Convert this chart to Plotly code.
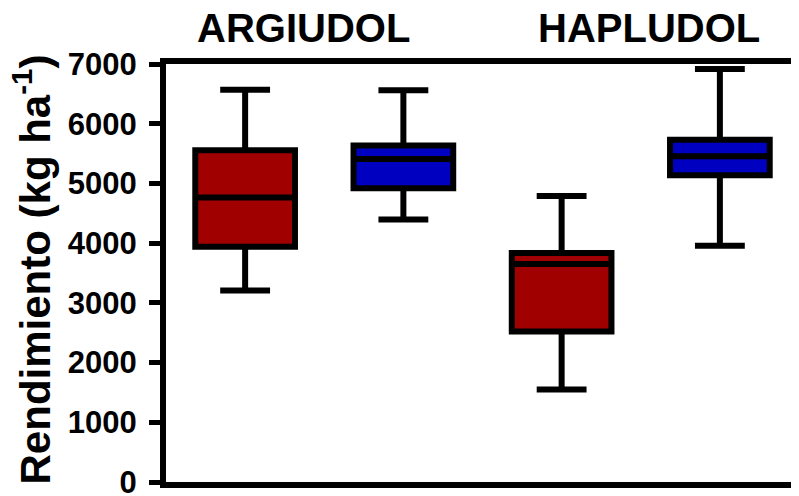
import plotly.graph_objects as go

soils = ["ARGIUDOL", "HAPLUDOL"]
series_names = ["Rojo", "Azul"]
series_colors = ["#a00000", "#0000c0"]

# per series: values for [ARGIUDOL, HAPLUDOL]
q1 = [[3940, 2520], [4920, 5135]]
median = [[4765, 3650], [5410, 5455]]
q3 = [[5555, 3835], [5635, 5730]]
lower = [[3205, 1550], [4395, 3955]]
upper = [[6570, 4790], [6560, 6915]]

y_ticks = [0, 1000, 2000, 3000, 4000, 5000, 6000, 7000]

fig = go.Figure()
for s in range(2):
    xs = [i * 2 + s for i in range(len(soils))]
    fig.add_trace(go.Box(
        x=xs,
        q1=q1[s], median=median[s], q3=q3[s],
        lowerfence=lower[s], upperfence=upper[s],
        name=series_names[s],
        fillcolor=series_colors[s],
        line=dict(color="black", width=6),
        width=0.63,
        whiskerwidth=0.5,
        boxpoints=False,
        hoverinfo="skip",
    ))

font_family = "Liberation Sans, Arial, sans-serif"
title_x = [0.372, 2.552]
for i, soil in enumerate(soils):
    fig.add_annotation(
        x=title_x[i], xref="x", y=1.087, yref="paper",
        text=soil, showarrow=False, xanchor="center", yanchor="middle",
        font=dict(family=font_family, size=40, color="black", weight="bold"),
    )

fig.add_annotation(
    x=-0.212, xref="paper", y=0.508, yref="paper",
    text="Rendimiento (kg ha<sup>-1</sup>)", showarrow=False,
    textangle=-90, xanchor="center", yanchor="middle",
    font=dict(family=font_family, size=42, color="black", weight="bold"),
)

fig.update_layout(
    width=799, height=496,
    margin=dict(l=158, r=8, t=56, b=22, autoexpand=False),
    paper_bgcolor="white", plot_bgcolor="white",
    showlegend=False,
    xaxis=dict(range=[-0.5, 3.5], showticklabels=False, ticks="",
               showgrid=False, zeroline=False, showline=True, automargin=False,
               linecolor="black", linewidth=6, mirror=True, fixedrange=True),
    yaxis=dict(range=[0, 7000], tickvals=y_ticks, ticks="outside",
               ticklen=11, tickwidth=5, tickcolor="black",
               showgrid=False, zeroline=False, showline=True, automargin=False,
               linecolor="black", linewidth=6,
               ticklabeloverflow="allow", ticklabelstandoff=6,
               tickfont=dict(family=font_family, size=31, color="black", weight="bold")),
)

fig.write_html("out.html")
